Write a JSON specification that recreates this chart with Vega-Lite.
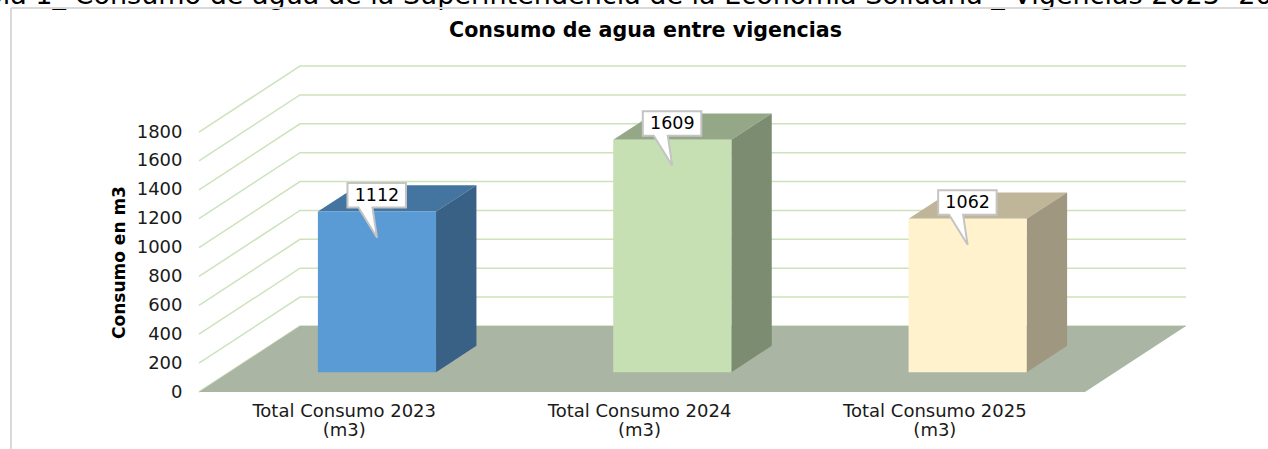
{
"$schema":"https://vega.github.io/schema/vega-lite/v6.json",
"width":987,"height":326,
"autosize":{"type":"none"},
"padding":{"left":199,"top":66,"right":82,"bottom":57},
"background":"white",
"view":{"stroke":null},
"config":{"font":"DejaVu Sans"},
"datasets":{
"consumo":[
{"categoria":"Total Consumo 2023 (m3)","orden":0,"consumo":1112},
{"categoria":"Total Consumo 2024 (m3)","orden":1,"consumo":1609},
{"categoria":"Total Consumo 2025 (m3)","orden":2,"consumo":1062}
],
"rejilla":[{"valor":0},{"valor":200},{"valor":400},{"valor":600},{"valor":800},{"valor":1000},{"valor":1200},{"valor":1400},{"valor":1600},{"valor":1800}]
},
"encoding":{
"x":{"field":"xp","type":"quantitative","scale":{"domain":[0,3.342],"nice":false,"zero":false},
"axis":{"title":null,"domain":false,"ticks":false,"grid":false,"values":[0.49,1.49,2.49],"labelFontSize":18,"labelColor":"#1a1a1a","labelPadding":10,"labelLineHeight":19,"labelAngle":0,"labelLimit":400,"labelOverlap":false,"labelFlush":false,
"labelExpr":"datum.value<1?['Total Consumo 2023','(m3)']:datum.value<2?['Total Consumo 2024','(m3)']:['Total Consumo 2025','(m3)']"}},
"y":{"field":"yp","type":"quantitative","scale":{"domain":[0,2257],"nice":false,"zero":false},
"axis":{"title":"Consumo en m3","titleFontSize":17,"titleFontWeight":"bold","titleColor":"#000000","titleX":-71,"titleY":196,"domain":false,"ticks":false,"grid":false,"values":[0,200,400,600,800,1000,1200,1400,1600,1800],"labelFontSize":18,"labelColor":"#1a1a1a","labelPadding":17,"format":"d"}}
},
"layer":[
{"data":{"values":[{"texto":"Tabla 1_ Consumo de agua de la Superintendencia de la Economía Solidaria _ Vigencias 2023- 2025"}]},
"transform":[{"calculate":"1.466","as":"xp"},{"calculate":"2686","as":"yp"}],
"mark":{"type":"text","fontSize":27,"align":"center","baseline":"alphabetic","color":"#000000"},
"encoding":{"text":{"field":"texto"}}},
{"data":{"values":[{"texto":"Consumo de agua entre vigencias"}]},
"transform":[{"calculate":"1.512","as":"xp"},{"calculate":"2458","as":"yp"}],
"mark":{"type":"text","fontSize":20.6,"fontWeight":"bold","align":"center","baseline":"alphabetic","color":"#000000"},
"encoding":{"text":{"field":"texto"}}},
{"data":{"values":[{"panel":"marco"}]},
"transform":[{"calculate":"-0.6366","as":"xp"},{"calculate":"2658","as":"yp"},{"calculate":"-395","as":"yp2"}],
"mark":{"type":"rule","color":"#d9d9d9","strokeWidth":2},
"encoding":{"y2":{"field":"yp2"}}},
{"data":{"values":[{"panel":"marco"}]},
"transform":[{"calculate":"-0.6366","as":"xp"},{"calculate":"3.62","as":"xp2"},{"calculate":"2658","as":"yp"}],
"mark":{"type":"rule","color":"#d9d9d9","strokeWidth":2},
"encoding":{"x2":{"field":"xp2"}}},
{"data":{"name":"rejilla"},
"transform":[{"calculate":"[0,0.342,3.342]","as":"xp"},{"flatten":["xp"]},{"calculate":"datum.valor+(datum.xp>0?457:0)","as":"yp"}],
"mark":{"type":"line","color":"#cde3bb","strokeWidth":1.5},
"encoding":{"detail":{"field":"valor"}}},
{"data":{"values":[{"plano":"piso"}]},
"transform":[{"calculate":"[0,1]","as":"d"},{"flatten":["d"]},{"calculate":"datum.d*0.342","as":"xp"},{"calculate":"3+datum.d*0.342","as":"xp2"},{"calculate":"datum.d*457","as":"yp"}],
"mark":{"type":"area","orient":"horizontal","color":"#aab5a3"},
"encoding":{"x":{"field":"xp","type":"quantitative","stack":null,"scale":{"domain":[0,3.342],"nice":false,"zero":false}},"x2":{"field":"xp2"}}},
{"data":{"name":"consumo"},
"transform":[{"calculate":"[0.3,0.7]","as":"d"},{"flatten":["d"]},{"calculate":"datum.orden+0.3+datum.d*0.342","as":"xp"},{"calculate":"datum.orden+0.7+datum.d*0.342","as":"xp2"},{"calculate":"datum.consumo+datum.d*457","as":"yp"}],
"mark":{"type":"area","orient":"horizontal"},
"encoding":{"x":{"field":"xp","type":"quantitative","stack":null,"scale":{"domain":[0,3.342],"nice":false,"zero":false}},"x2":{"field":"xp2"},
"color":{"field":"categoria","type":"nominal","legend":null,"scale":{"range":["#4474a0","#94a887","#bfb599"]}}}},
{"data":{"name":"consumo"},
"transform":[{"calculate":"[0.3,0.7]","as":"d"},{"flatten":["d"]},{"calculate":"datum.orden+0.7+datum.d*0.342","as":"xp"},{"calculate":"datum.d*457","as":"yp"},{"calculate":"datum.consumo+datum.d*457","as":"yp2"}],
"mark":{"type":"area"},
"encoding":{"y":{"field":"yp","type":"quantitative","stack":null,"scale":{"domain":[0,2257],"nice":false,"zero":false}},"y2":{"field":"yp2"},
"color":{"field":"categoria","type":"nominal","legend":null,"scale":{"range":["#396185","#7c8c70","#9f977f"]}}}},
{"data":{"name":"consumo"},
"transform":[{"calculate":"datum.orden+0.3+0.1026","as":"xp"},{"calculate":"datum.orden+0.7+0.1026","as":"xp2"},{"calculate":"0.3*457","as":"yp"},{"calculate":"datum.consumo+0.3*457","as":"yp2"}],
"mark":{"type":"rect"},
"encoding":{"x2":{"field":"xp2"},"y2":{"field":"yp2"},
"color":{"field":"categoria","type":"nominal","legend":null,"scale":{"range":["#5b9bd5","#c6e0b4","#fff2cc"]}}}},
{"data":{"name":"consumo"},
"transform":[{"calculate":"datum.orden+0.5+0.1026","as":"xp"},{"calculate":"datum.consumo+0.3*457","as":"yp"}],
"mark":{"type":"point","shape":"M-29.5,-28.5 H29 V-4 H-4.5 L0,26 L-18.5,-4 H-29.5 Z","size":4,"filled":true,"fill":"#ffffff","stroke":"#c4c4c4","strokeWidth":2,"opacity":1}},
{"data":{"name":"consumo"},
"transform":[{"calculate":"datum.orden+0.5+0.1026","as":"xp"},{"calculate":"datum.consumo+0.3*457","as":"yp"}],
"mark":{"type":"text","fontSize":17.5,"dy":-16,"color":"#000000","align":"center","baseline":"middle"},
"encoding":{"text":{"field":"consumo","type":"quantitative","format":"d"}}}
],
"resolve":{"scale":{"color":"independent"}}
}
